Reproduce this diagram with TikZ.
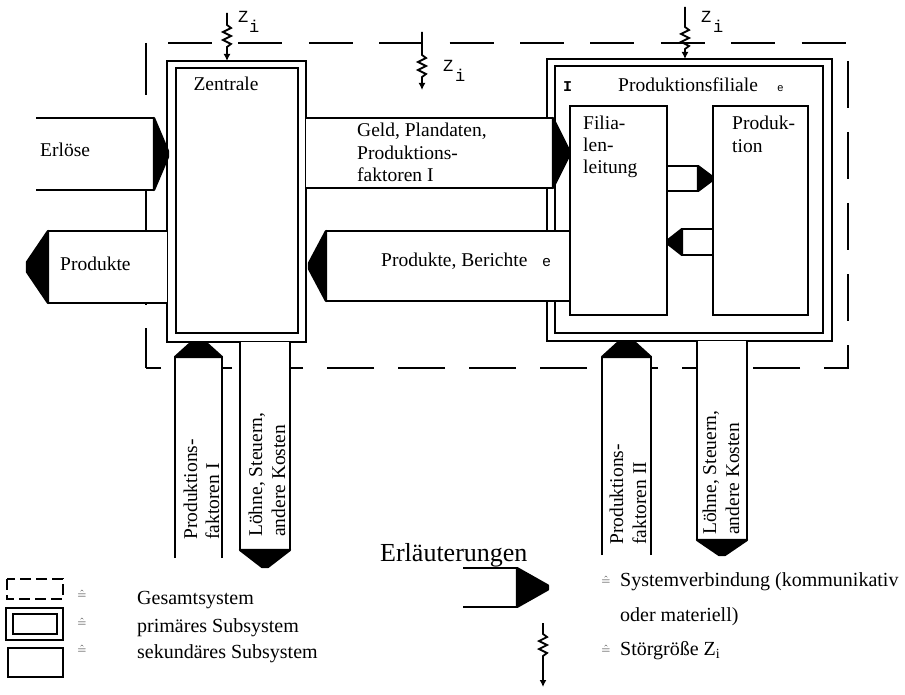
\documentclass[tikz,border=0pt]{standalone}
\usepackage{fontspec}
\setmainfont{Liberation Serif}
\newfontfamily\zmono{Liberation Mono}
\usetikzlibrary{arrows.meta}
\newcommand\cnH[6]{% x0, xh, xt, ytop, ybot, halfwidth of tip
  \fill[white] (#1,#4) rectangle (#2,#5);
  \draw[conn] (#1,#4) -- (#2,#4) (#1,#5) -- (#2,#5);
  \filldraw[conn] (#2,#4) -- (#3,{(#4+#5)/2-#6}) -- (#3,{(#4+#5)/2+#6}) -- (#2,#5) -- cycle;
}
\newcommand\cnV[6]{% y0, yh, yt, xleft, xright, halfwidth of tip
  \fill[white] (#4,#1) rectangle (#5,#2);
  \draw[conn] (#4,#1) -- (#4,#2) (#5,#1) -- (#5,#2);
  \filldraw[conn] (#4,#2) -- ({(#4+#5)/2-#6},#3) -- ({(#4+#5)/2+#6},#3) -- (#5,#2) -- cycle;
}
\newcommand\zig[5]{% name, x, ytop, yzig, ybot
  \coordinate (#1s) at (#2,#3);
  \coordinate (#1e) at (#2,#5);
  \draw[zarrow] (#1s) -- (#2,#4) -- ++(4,3) -- ++(-8,4) -- ++(8,4) -- ++(-8,4) -- ++(8,4) -- ++(-4,3) -- (#1e);
}
\begin{document}
\begin{tikzpicture}[x=1pt,y=-1pt,
  dashln/.style={line width=2.6pt},
  outerln/.style={line width=2.8pt},
  innerln/.style={line width=2.2pt},
  boxln/.style={line width=2.4pt},
  conn/.style={line width=2.2pt, line join=round},
  dtext/.style={font=\fontsize{19.5}{22}\selectfont, inner sep=0pt},
  rtext/.style={dtext, rotate=90},
  ztext/.style={font=\zmono\fontsize{17}{17}\selectfont, inner sep=0pt},
  ltext/.style={font=\fontsize{20}{24}\selectfont, inner sep=0pt},
  eqtext/.style={font=\fontsize{13}{13}\selectfont, inner sep=0pt},
  zarrow/.style={line width=1.8pt, -{Latex[length=7pt,width=7pt]}}]
\useasboundingbox (0,0) rectangle (905,695);
\fill[white] (0,0) rectangle (905,695);

% Gesamtsystem (dashed)
\draw[dashln, dash pattern=on 44pt off 26.4pt] (168,43) -- (846,43);
\draw[dashln, dash pattern=on 47pt off 24pt, line join=miter] (848,61) -- (848,368) -- (146,368);
\draw[dashln, dash pattern=on 52pt off 25pt on 45pt off 25pt on 45pt off 25pt on 45pt off 23pt on 42pt off 0pt] (146,43) -- (146,368);

% Zentrale (primary subsystem)
\draw[outerln] (167,61) rectangle (306,342);
\draw[innerln] (176,68) rectangle (298,333);
\coordinate (zen) at (236,200);
% Produktionsfiliale (primary subsystem)
\draw[outerln] (547,59) rectangle (832,341);
\draw[innerln] (555,66) rectangle (823,333);
\coordinate (pf) at (690,200);

% connectors
\cnH{36}{154}{168}{118}{190}{3}   % Erloese
\cnH{167}{48}{27}{231}{303}{5}    % Produkte
\cnH{306}{553}{569}{118}{188}{3}  % Geld
\cnH{570}{326}{309}{231}{301}{3}  % Produkte, Berichte
\cnH{667}{698}{712}{166}{191}{2}  % small right
\cnH{713}{682}{668}{229}{255}{2}  % small left
\cnV{558}{357}{343}{175}{222}{8}  % Produktionsfaktoren I
\cnV{342}{550}{567}{240}{290}{3}  % Loehne I
\cnV{555}{357}{342}{602}{651}{8}  % Produktionsfaktoren II
\cnV{341}{540}{555}{697}{747}{3}  % Loehne II

% secondary subsystems
\draw[boxln] (570,106) rectangle (667,315);
\draw[boxln] (713,106) rectangle (808,315);

% texts in the diagram
\node[dtext, anchor=base] (tzen) at (226,91) {Zentrale};
\node[dtext, anchor=base west] (terl) at (40,157) {Erlöse};
\node[dtext, anchor=base west] (tprod) at (60,270) {Produkte};
\node[dtext, anchor=base west] (tg1) at (357,137) {Geld, Plandaten,};
\node[dtext, anchor=base west] (tg2) at (357,160) {Produktions-};
\node[dtext, anchor=base west] (tg3) at (357,182) {faktoren I};
\node[dtext, anchor=base west] (tpb) at (381,266) {Produkte, Berichte};
\node[ztext, font=\zmono\fontsize{15}{15}\selectfont, anchor=base west] (te1) at (542,266) {e};
\node[dtext, anchor=base west] (tpf) at (618,92) {Produktionsfiliale};
\node[ztext, font=\zmono\bfseries\fontsize{15}{15}\selectfont, anchor=base west] (tI) at (563,92) {I};
\node[ztext, font=\zmono\fontsize{11}{11}\selectfont, anchor=base west] (te2) at (777,92) {e};
\node[dtext, anchor=base west] (tf1) at (583,130) {Filia-};
\node[dtext, anchor=base west] (tf2) at (583,152) {len-};
\node[dtext, anchor=base west] (tf3) at (583,174) {leitung};
\node[dtext, anchor=base west] (tp1) at (732,130) {Produk-};
\node[dtext, anchor=base west] (tp2) at (732,153) {tion};

\node[rtext, anchor=base west] (r1a) at (197,540) {Produktions-};
\node[rtext, anchor=base west] (r1b) at (219,540) {faktoren I};
\node[rtext, anchor=base west] (r2a) at (262,537) {Löhne, Steuern,};
\node[rtext, anchor=base west] (r2b) at (285,537) {andere Kosten};
\node[rtext, anchor=base west] (r3a) at (623,545) {Produktions-};
\node[rtext, anchor=base west] (r3b) at (646,545) {faktoren II};
\node[rtext, anchor=base west] (r4a) at (716,535) {Löhne, Steuern,};
\node[rtext, anchor=base west] (r4b) at (739,535) {andere Kosten};

% disturbances Z_i
\zig{za}{227}{13}{25}{61}
\zig{zb}{422}{32}{55}{90}
\zig{zc}{685}{7}{27}{59}
\node[ztext, anchor=base west] (za1) at (238,23) {Z};
\node[ztext, anchor=base west] (za2) at (249,33) {i};
\node[ztext, anchor=base west] (zb1) at (443,72) {Z};
\node[ztext, anchor=base west] (zb2) at (455,82) {i};
\node[ztext, anchor=base west] (zc1) at (701,23) {Z};
\node[ztext, anchor=base west] (zc2) at (713,33) {i};

% legend
\node[ltext, font=\fontsize{26}{28}\selectfont, anchor=base west] (leg) at (380,561) {Erläuterungen};
\draw[line width=2pt, dash pattern=on 11pt off 5pt] (7,579) rectangle (63,599);
\draw[line width=2.4pt] (6,608) rectangle (63,640);
\draw[line width=2pt] (13,614) rectangle (57,634);
\draw[line width=2pt] (8,648) rectangle (63,677);
\node[eqtext] (eq1) at (82,594) {$\hat{=}$};
\node[eqtext] (eq2) at (82,622) {$\hat{=}$};
\node[eqtext] (eq3) at (82,649) {$\hat{=}$};
\node[ltext, anchor=base west] (l1) at (137,604) {Gesamtsystem};
\node[ltext, anchor=base west] (l2) at (137,632) {primäres Subsystem};
\node[ltext, anchor=base west] (l3) at (137,658) {sekundäres Subsystem};

\cnH{463}{517}{548}{568}{607}{2}
\zig{zl}{543}{623}{634}{687}
\node[eqtext] (eq4) at (606,580) {$\hat{=}$};
\node[eqtext] (eq5) at (606,649) {$\hat{=}$};
\node[ltext, anchor=base west] (l4) at (620,586) {Systemverbindung (kommunikativ};
\node[ltext, anchor=base west] (l5) at (620,621) {oder materiell)};
\node[ltext, anchor=base west] (l6) at (620,655) {Störgröße Z\textsubscript{i}};
\end{tikzpicture}
\end{document}
